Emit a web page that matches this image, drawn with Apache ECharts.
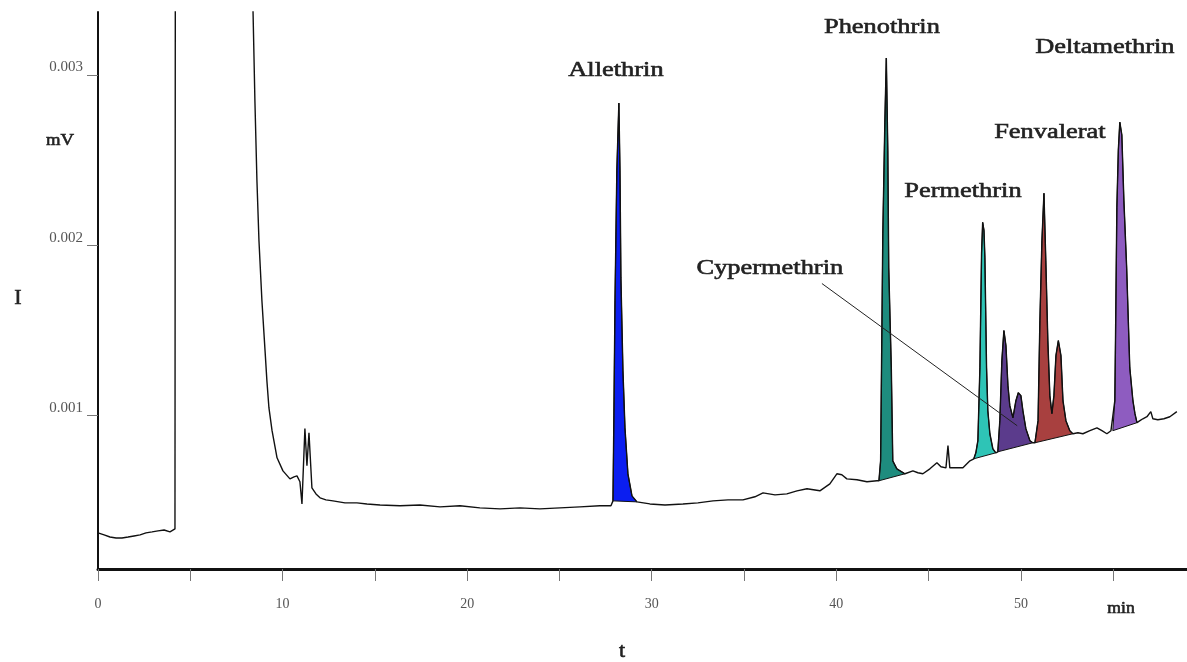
<!DOCTYPE html>
<html>
<head>
<meta charset="utf-8">
<script src="https://cdn.jsdelivr.net/npm/echarts@6/dist/echarts.min.js"></script>
<style>
html, body { margin: 0; padding: 0; background: #fff; }
#chart { width: 1187px; height: 662px; }
</style>
</head>
<body>
<div id="chart"></div>
<script>
// chromatogram trace, time in min, signal in mV
var traceTime = [
  0.00, 0.33, 0.65, 0.98, 1.30, 1.63, 1.95, 2.28, 2.60, 2.93, 3.25, 3.58, 3.90, 4.17,
  4.20, 8.30, 8.40, 8.50, 8.61, 8.72, 8.88, 9.05, 9.15, 9.26, 9.43, 9.70,
  10.02, 10.40, 10.62, 10.78, 10.94, 11.05, 11.21, 11.32, 11.43, 11.59, 11.81,
  12.03, 12.35, 12.73, 13.38, 14.03, 14.57, 15.28, 16.36, 17.44, 18.53, 19.61,
  20.69, 21.78, 22.86, 23.94, 25.03, 26.11, 27.19, 27.79,
  27.90, 27.95, 28.01, 28.11, 28.22, 28.28, 28.33, 28.44, 28.55, 28.71, 28.93, 29.20,
  29.90, 30.72, 31.69, 32.50, 33.32, 34.13, 34.94, 35.59, 36.03, 36.68, 37.32,
  37.87, 38.41, 39.11, 39.65, 40.03, 40.30, 40.57, 41.12, 41.66, 42.20,
  42.31, 42.40, 42.45, 42.52, 42.63, 42.71, 42.79, 42.84, 42.98, 43.06, 43.28, 43.72,
  44.15, 44.42, 44.69, 45.07, 45.45, 45.67, 45.94, 46.05, 46.15, 46.53, 46.86, 47.24,
  47.45, 47.56, 47.67, 47.78, 47.87, 47.93, 48.00, 48.05, 48.14, 48.21, 48.32, 48.48, 48.64,
  48.75, 48.86, 48.97, 49.08, 49.19, 49.30, 49.40, 49.57, 49.73, 49.86, 50.00, 50.11,
  50.27, 50.49, 50.65,
  50.76, 50.93, 51.03, 51.14, 51.25, 51.35, 51.46, 51.57, 51.68, 51.79, 51.90, 52.03,
  52.17, 52.28, 52.44, 52.65, 52.82,
  53.09, 53.36, 53.74, 54.12, 54.39, 54.66, 54.88,
  54.98, 55.09, 55.13, 55.20, 55.28, 55.36, 55.47, 55.58, 55.73, 55.82, 55.90, 56.07,
  56.18, 56.29,
  56.45, 56.61, 56.83, 57.04, 57.15, 57.42, 57.75, 58.07, 58.45
]
var traceSignal = [
  0.000312, 0.000300, 0.000288, 0.000282, 0.000282, 0.000288, 0.000294, 0.000300,
  0.000312, 0.000318, 0.000324, 0.000329, 0.000318, 0.000335,
  0.0055, 0.0055, 0.00337, 0.002853, 0.002382, 0.002029, 0.001676, 0.001382, 0.001206,
  0.001047, 0.000912, 0.000753,
  0.000676, 0.000629, 0.000641, 0.000647, 0.000612, 0.000482, 0.000924, 0.000706,
  0.000900, 0.000576, 0.000541,
  0.000518, 0.000506, 0.000500, 0.000488, 0.000488, 0.000482, 0.000476, 0.000471,
  0.000476, 0.000465, 0.000471,
  0.000459, 0.000453, 0.000459, 0.000453, 0.000459, 0.000465, 0.000471, 0.000471,
  0.000500, 0.001000, 0.001676, 0.002441, 0.002835, 0.002441, 0.001812, 0.001265,
  0.000929, 0.000659, 0.000529, 0.000494,
  0.000482, 0.000476, 0.000482, 0.000488, 0.000500, 0.000506, 0.000506, 0.000524,
  0.000547, 0.000535, 0.000541,
  0.000559, 0.000571, 0.000559, 0.000600, 0.000659, 0.000653, 0.000629, 0.000624,
  0.000612, 0.000618,
  0.000618, 0.000735, 0.001282, 0.002071, 0.002723, 0.003100, 0.002559, 0.001871,
  0.001282, 0.000735, 0.000688, 0.000659,
  0.000676, 0.000665, 0.000659, 0.000688, 0.000724, 0.000700, 0.000694, 0.000824,
  0.000694, 0.000694, 0.000694, 0.000735,
  0.000747, 0.000782, 0.000853, 0.001282, 0.001953, 0.002135, 0.002088, 0.001929,
  0.001282, 0.001029, 0.000894, 0.000806, 0.000782,
  0.000788, 0.000971, 0.001324, 0.001500, 0.001412, 0.001176, 0.001059, 0.000988,
  0.001088, 0.001135, 0.001118, 0.001029,
  0.000924, 0.000853, 0.000841,
  0.000841, 0.000971, 0.001559, 0.002029, 0.002306, 0.001912, 0.001441, 0.001118,
  0.001012, 0.001118, 0.001353, 0.001441,
  0.001353, 0.001088, 0.000971, 0.000912, 0.000894,
  0.000900, 0.000894, 0.000912, 0.000929, 0.000912, 0.000894, 0.000912,
  0.000912, 0.001088, 0.001482, 0.002223, 0.002559, 0.002723, 0.002647, 0.002265,
  0.001871, 0.001559, 0.001282, 0.001088,
  0.001012, 0.000959,
  0.000971, 0.000982, 0.000994, 0.001024, 0.000982, 0.000976, 0.000982, 0.000994, 0.001024
]

var peakNames = ['Allethrin', 'Phenothrin', 'Permethrin', 'Cypermethrin', 'Fenvalerat', 'Deltamethrin']
var peakStart = [27.90, 42.31, 47.45, 48.75, 50.76, 54.98]
var peakEnd = [29.20, 43.72, 48.64, 50.65, 52.82, 56.29]
var peakColors = ['#0b1ef0', '#1e8c7e', '#2ec4b6', '#5b3b8c', '#a8403f', '#8e5cc0']

// where the names sit, in data units
var labelTime = [28.06, 42.47, 46.86, 36.40, 51.57, 54.55]
var labelSignal = [0.003029, 0.003282, 0.002318, 0.001865, 0.002665, 0.003165]

// leader line from the Cypermethrin label
var leaderTime = [39.22, 49.80]
var leaderSignal = [0.001776, 0.000941]

var yTicks = [0.001, 0.002, 0.003]
var xTicks = [0, 5, 10, 15, 20, 25, 30, 35, 40, 45, 50, 55]
var xLabels = [0, 10, 20, 30, 40, 50]

var trace = traceTime.map(function (t, i) { return [t, traceSignal[i]] })
var leader = leaderTime.map(function (t, i) { return [t, leaderSignal[i]] })

function peakPoints (i) {
  return trace.filter(function (p) {
    return p[0] >= peakStart[i] && p[0] <= peakEnd[i]
  })
}

var serif = '"Liberation Serif", "DejaVu Serif", serif'
var myChart = echarts.init(document.getElementById('chart'))

var option = {
  animation: false,
  grid: { left: 98, right: 0, top: 12, bottom: 93 },
  xAxis: {
    type: 'value',
    min: 0,
    max: 59,
    axisLine: { lineStyle: { color: '#111', width: 3 } },
    axisTick: { customValues: xTicks, length: 12, lineStyle: { color: '#777' } },
    axisLabel: { customValues: xLabels, margin: 28, color: '#555', fontFamily: serif, fontSize: 14 },
    splitLine: { show: false }
  },
  yAxis: {
    type: 'value',
    min: 0.0001,
    max: 0.00337,
    axisLine: { show: true, lineStyle: { color: '#111', width: 2 } },
    axisTick: { show: true, customValues: yTicks, length: 11, lineStyle: { color: '#777' } },
    axisLabel: {
      customValues: yTicks,
      margin: 15,
      verticalAlign: 'bottom',
      color: '#555',
      fontFamily: serif,
      fontSize: 15
    },
    splitLine: { show: false }
  },
  series: [
    {
      type: 'custom',
      z: 2,
      data: peakStart.map(function (t, i) { return [t, peakPoints(i)[0][1]] }),
      renderItem: function (params, api) {
        var pts = peakPoints(params.dataIndex).map(function (p) { return api.coord(p) })
        return {
          type: 'polygon',
          shape: { points: pts },
          style: { fill: peakColors[params.dataIndex], stroke: '#111', lineWidth: 1 }
        }
      }
    },
    {
      type: 'line',
      z: 3,
      data: trace,
      showSymbol: false,
      lineStyle: { color: '#111', width: 1.4 }
    },
    {
      type: 'line',
      z: 3,
      data: leader,
      showSymbol: false,
      lineStyle: { color: '#222', width: 1 }
    }
  ]
}
myChart.setOption(option)

function text (str, x, y, size, sx) {
  return {
    type: 'text',
    x: x,
    y: y,
    scaleX: sx,
    style: {
      text: str,
      fontFamily: serif,
      fontSize: size,
      fill: '#222',
      stroke: '#222',
      lineWidth: 0.6,
      align: 'center',
      verticalAlign: 'middle',
      textAlign: 'center',
      textVerticalAlign: 'middle'
    }
  }
}

var labels = peakNames.map(function (n, i) {
  var p = myChart.convertToPixel({ gridIndex: 0 }, [labelTime[i], labelSignal[i]])
  return text(n, p[0], p[1], 22, 1.2)
})
labels.push(text('mV', 60, 141, 17, 1.1))
labels.push(text('I', 18, 298, 22, 1))
labels.push(text('min', 1121, 609, 16, 1.1))
labels.push(text('t', 622, 651, 22, 1))

myChart.setOption({ graphic: { elements: labels } })
</script>
</body>
</html>
